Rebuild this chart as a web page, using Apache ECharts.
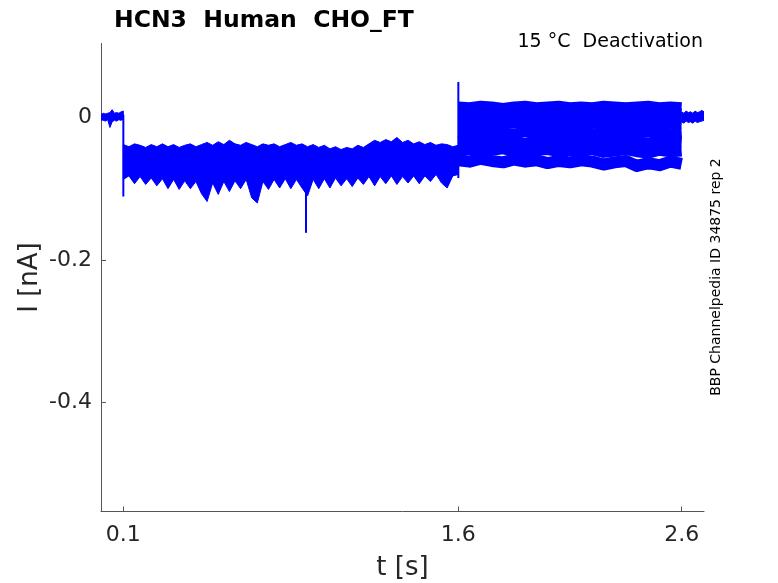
<!DOCTYPE html>
<html><head><meta charset="utf-8">
<script src="https://cdn.jsdelivr.net/npm/echarts@6.0.0/dist/echarts.min.js"></script>
<style>html,body{margin:0;padding:0;background:#fff}#c{width:778px;height:583px}</style>
</head><body><div id="c"></div>
<script>
// ---- data (nA vs s) ----
const xTicks = [0.1, 1.6, 2.6];
const yTicks = [-0.4, -0.2, 0];

// holding level before the step (0 - 0.1 s): upper / lower noise envelope
const preT  = [0, 0.01, 0.02, 0.03, 0.04, 0.05, 0.06, 0.07, 0.08, 0.09, 0.10];
const preHi = [0.004, 0.006, 0.005, 0.006, 0.007, 0.011, 0.006, 0.007, 0.006, 0.008, 0.009];
const preLo = [-0.003, -0.004, -0.005, -0.003, -0.014, -0.006, -0.004, -0.005, -0.003, -0.004, -0.002];

// first step (0.1 - 1.6 s): all sweeps overlap; envelope sampled every 0.025 s
const s1Start = 0.1, s1Step = 0.025;
const s1Hi = [-0.038,-0.041,-0.037,-0.039,-0.042,-0.038,-0.041,-0.037,-0.041,-0.038,
              -0.042,-0.039,-0.037,-0.041,-0.038,-0.035,-0.039,-0.034,-0.038,-0.032,
              -0.037,-0.039,-0.035,-0.038,-0.041,-0.037,-0.039,-0.037,-0.041,-0.038,
              -0.035,-0.039,-0.037,-0.041,-0.038,-0.042,-0.039,-0.044,-0.041,-0.045,
              -0.042,-0.044,-0.039,-0.042,-0.037,-0.032,-0.035,-0.031,-0.034,-0.028,
              -0.035,-0.032,-0.037,-0.034,-0.038,-0.035,-0.039,-0.037,-0.038,-0.041,
              -0.039];
const s1Lo = [-0.087,-0.082,-0.093,-0.083,-0.094,-0.085,-0.096,-0.086,-0.100,-0.087,
              -0.101,-0.089,-0.100,-0.090,-0.107,-0.118,-0.092,-0.108,-0.090,-0.104,
              -0.089,-0.100,-0.087,-0.113,-0.120,-0.090,-0.101,-0.087,-0.099,-0.086,
              -0.100,-0.087,-0.099,-0.110,-0.087,-0.100,-0.086,-0.099,-0.085,-0.096,
              -0.086,-0.097,-0.085,-0.094,-0.083,-0.096,-0.083,-0.093,-0.082,-0.094,
              -0.083,-0.092,-0.082,-0.093,-0.082,-0.090,-0.080,-0.092,-0.099,-0.082,
              -0.080];

// second step (1.6 - 2.6 s): individual sweeps, sampled every 0.05 s
const s2T = [1.60,1.65,1.70,1.75,1.80,1.85,1.90,1.95,2.00,2.05,2.10,2.15,2.20,2.25,2.30,2.35,2.40,2.45,2.50,2.55,2.60];
const sweep1 = [0.017,0.016,0.018,0.017,0.015,0.017,0.018,0.016,0.017,0.018,0.016,0.017,0.016,0.018,0.017,0.016,0.017,0.018,0.016,0.017,0.016];
const sweep2 = [0.008,0.009,0.007,0.009,0.008,0.010,0.008,0.007,0.009,0.008,0.009,0.007,0.008,0.010,0.008,0.009,0.007,0.008,0.009,0.008,0.007];
const sweep3 = [-0.001,0.000,-0.002,0.001,-0.001,0.000,-0.002,-0.001,0.001,-0.001,0.000,-0.002,-0.001,0.000,-0.002,0.000,-0.001,-0.002,0.000,-0.001,-0.002];
const sweep4 = [-0.010,-0.009,-0.011,-0.008,-0.010,-0.009,-0.011,-0.010,-0.008,-0.010,-0.011,-0.009,-0.010,-0.008,-0.011,-0.010,-0.009,-0.011,-0.010,-0.009,-0.010];
const sweep5 = [-0.021,-0.020,-0.022,-0.019,-0.021,-0.023,-0.020,-0.021,-0.019,-0.022,-0.020,-0.021,-0.023,-0.020,-0.021,-0.019,-0.022,-0.021,-0.020,-0.022,-0.021];
const sweep6 = [-0.034,-0.032,-0.035,-0.033,-0.031,-0.034,-0.036,-0.033,-0.032,-0.035,-0.033,-0.034,-0.032,-0.035,-0.033,-0.031,-0.034,-0.036,-0.033,-0.034,-0.035];
const sweep7 = [-0.047,-0.045,-0.048,-0.046,-0.044,-0.047,-0.049,-0.046,-0.045,-0.048,-0.046,-0.047,-0.045,-0.049,-0.047,-0.045,-0.048,-0.050,-0.046,-0.048,-0.047];
const sweep8 = [-0.060,-0.062,-0.058,-0.061,-0.063,-0.059,-0.062,-0.060,-0.064,-0.061,-0.063,-0.060,-0.062,-0.066,-0.063,-0.061,-0.068,-0.064,-0.067,-0.062,-0.065];

// return to holding level (2.6 - 2.7 s)
const postT  = [2.60,2.61,2.62,2.63,2.64,2.65,2.66,2.67,2.68,2.69,2.70];
const postHi = [0.008,0.006,0.009,0.007,0.008,0.006,0.009,0.007,0.008,0.010,0.008];
const postLo = [-0.006,-0.008,-0.005,-0.007,-0.006,-0.008,-0.005,-0.007,-0.006,-0.005,-0.004];

// transient spikes: time, start value, peak value
const spikeT    = [0.100, 0.918, 1.600];
const spikeFrom = [0.004, -0.085, -0.085];
const spikeTo   = [-0.111, -0.162, 0.050];

// ---- chart ----
const BLUE = '#0000ff';
const TXT = '#262626';
const FONT = 'DejaVu Sans';
const s1T = s1Hi.map((_, i) => +(s1Start + i * s1Step).toFixed(3));

function band(name, t, hi, lo) {
  return {
    type: 'custom', name: name, silent: true, animation: false, clip: true,
    data: t.map((x, i) => [x, hi[i], lo[i]]),
    encode: { x: 0, y: [1, 2] },
    renderItem: function (params, api) {
      if (params.dataIndex !== 0) return null;
      const pts = [];
      for (let i = 0; i < t.length; i++) pts.push(api.coord([t[i], hi[i]]));
      for (let i = t.length - 1; i >= 0; i--) pts.push(api.coord([t[i], lo[i]]));
      return { type: 'polygon', shape: { points: pts }, style: { fill: BLUE, stroke: BLUE, lineWidth: 1 } };
    }
  };
}
function sweep(name, vals, w) {
  return {
    type: 'line', name: name, silent: true, animation: false, showSymbol: false, symbol: 'none',
    data: s2T.map((x, i) => [x, vals[i]]),
    lineStyle: { color: BLUE, width: w, cap: 'butt', join: 'round' }
  };
}

const chart = echarts.init(document.getElementById('c'), null, { renderer: 'canvas' });
chart.setOption({
  animation: false,
  backgroundColor: '#fff',
  title: {
    text: 'HCN3  Human  CHO_FT', left: 109, top: 4,
    textStyle: { fontSize: 23.5, fontWeight: 'bold', fontFamily: FONT, color: '#000' }
  },
  graphic: [
    { type: 'text', right: 75, top: 33, style: { text: '15 °C  Deactivation', font: '19px "DejaVu Sans"', fill: '#000' } },
    { type: 'text', x: 716, y: 277, rotation: Math.PI / 2,
      style: { text: 'BBP Channelpedia ID 34875 rep 2', font: '14px "DejaVu Sans"', fill: '#000', align: 'center', verticalAlign: 'middle' } }
  ],
  grid: { left: 101, right: 74, top: 43.5, bottom: 71.5, containLabel: false, outerBoundsMode: 'none' },
  xAxis: {
    type: 'value', min: 0, max: 2.7,
    axisLine: { show: true, onZero: false, lineStyle: { color: '#555', width: 1 } },
    axisTick: { show: true, inside: true, length: 5, customValues: xTicks, lineStyle: { color: '#555' } },
    axisLabel: { customValues: xTicks, fontSize: 22, color: TXT, fontFamily: FONT, margin: 13, formatter: v => String(v) },
    splitLine: { show: false },
    name: 't [s]', nameLocation: 'middle', nameGap: 44, nameMoveOverlap: false,
    nameTextStyle: { fontSize: 26, color: TXT, fontFamily: FONT }
  },
  yAxis: {
    type: 'value', min: -0.5535, max: 0.104,
    axisLine: { show: true, onZero: false, lineStyle: { color: '#555', width: 1 } },
    axisTick: { show: true, inside: true, length: 5, customValues: yTicks, lineStyle: { color: '#555' } },
    axisLabel: { customValues: yTicks, fontSize: 22, color: TXT, fontFamily: FONT, margin: 9, padding: [4, 0, 0, 0],
                 formatter: v => (v === 0 ? '0' : String(v)) },
    splitLine: { show: false },
    name: 'I [nA]', nameLocation: 'middle', nameGap: 58, nameMoveOverlap: false,
    nameTextStyle: { fontSize: 26, color: TXT, fontFamily: FONT }
  },
  series: [
    band('pre', preT, preHi, preLo),
    band('step1', s1T, s1Hi, s1Lo),
    sweep('sweep1', sweep1, 8),
    sweep('sweep2', sweep2, 8),
    sweep('sweep3', sweep3, 9),
    sweep('sweep4', sweep4, 9),
    sweep('sweep5', sweep5, 10),
    sweep('sweep6', sweep6, 11),
    sweep('sweep7', sweep7, 11),
    sweep('sweep8', sweep8, 12),
    band('post', postT, postHi, postLo),
    {
      type: 'custom', name: 'spikes', silent: true, animation: false,
      data: spikeT.map((x, i) => [x, spikeFrom[i], spikeTo[i]]),
      encode: { x: 0, y: [1, 2] },
      renderItem: function (params, api) {
        const a = api.coord([api.value(0), api.value(1)]);
        const b = api.coord([api.value(0), api.value(2)]);
        return { type: 'line', shape: { x1: a[0], y1: a[1], x2: b[0], y2: b[1] }, style: { stroke: BLUE, lineWidth: 2 } };
      }
    }
  ]
});
</script></body></html>
